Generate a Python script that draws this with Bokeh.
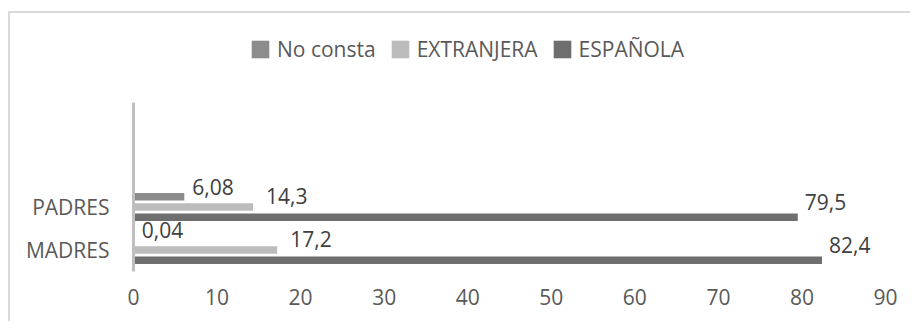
from bokeh.plotting import figure
from bokeh.layouts import column
from bokeh.models import Range1d, FixedTicker, Legend, LegendItem, ColumnDataSource
from bokeh.transform import dodge
from bokeh.core.properties import value
from bokeh.embed import file_html
from bokeh.resources import INLINE

# ---- data ----
categories = ["MADRES", "PADRES"]
espanola = [82.4, 79.5]
extranjera = [17.2, 14.3]
no_consta = [0.04, 6.08]
espanola_labels = ["82,4", "79,5"]
extranjera_labels = ["17,2", "14,3"]
no_consta_labels = ["0,04", "6,08"]
x_ticks = [0, 10, 20, 30, 40, 50, 60, 70, 80, 90]

ypos = [i + 0.5 for i in range(len(categories))]
src = ColumnDataSource(dict(
    y=ypos, esp=espanola, ext=extranjera, noc=no_consta,
    esp_l=espanola_labels, ext_l=extranjera_labels, noc_l=no_consta_labels,
))

FONT = "Open Sans"
FS = "21px"
AXIS_TOP = 3.93   # extent of the category axis line
Y_END = 5.77      # room above for the legend

p = figure(width=900, height=308, output_backend="svg", toolbar_location=None,
           x_range=Range1d(0, 90), y_range=Range1d(0, Y_END),
           min_border_left=123, min_border_right=25, min_border_top=10, min_border_bottom=50)
p.outline_line_color = None
p.grid.visible = False
p.background_fill_color = "white"
p.border_fill_color = "white"

BAR_H = 0.175
OFF = 0.24

r_noc = p.hbar(y=dodge("y", OFF), right="noc", left=0, height=BAR_H, source=src,
               fill_color="#8c8c8c", line_color=None,
               hatch_pattern="v_line", hatch_color="#a0a0a0", hatch_scale=3, hatch_weight=1)
r_ext = p.hbar(y="y", right="ext", left=0, height=BAR_H, source=src,
               fill_color="#bcbcbc", line_color=None,
               hatch_pattern="v_line", hatch_color="#cacaca", hatch_scale=3, hatch_weight=1)
r_esp = p.hbar(y=dodge("y", -OFF), right="esp", left=0, height=BAR_H, source=src,
               fill_color="#6e6e6e", line_color=None,
               hatch_pattern="v_line", hatch_color="#858585", hatch_scale=3, hatch_weight=1)

lab_kw = dict(source=src, text_font=value(FONT), text_font_size=FS,
              text_color="#404040", text_align="left", text_baseline="middle")
p.text(x="noc", y=dodge("y", OFF), text="noc_l", x_offset=8, y_offset=-10, **lab_kw)
p.text(x="ext", y="y", text="ext_l", x_offset=13, y_offset=-11, **lab_kw)
p.text(x="esp", y=dodge("y", -OFF), text="esp_l", x_offset=7, y_offset=-15, **lab_kw)

# axes
p.xaxis.ticker = FixedTicker(ticks=x_ticks)
p.xaxis.axis_line_color = None
p.xaxis.major_tick_line_color = None
p.xaxis.minor_tick_line_color = None
p.xaxis.major_label_standoff = 11
p.xaxis.major_label_text_font = FONT
p.xaxis.major_label_text_font_size = FS
p.xaxis.major_label_text_color = "#595959"

p.yaxis.ticker = FixedTicker(ticks=ypos)
p.yaxis.bounds = (0, AXIS_TOP)
p.yaxis.major_label_overrides = {y: c for y, c in zip(ypos, categories)}
p.yaxis.axis_line_color = "#bfbfbf"
p.yaxis.axis_line_width = 3
p.yaxis.major_tick_line_color = None
p.yaxis.minor_tick_line_color = None
p.yaxis.major_label_standoff = 18
p.yaxis.major_label_text_font = FONT
p.yaxis.major_label_text_font_size = FS
p.yaxis.major_label_text_color = "#595959"

legend = Legend(items=[
    LegendItem(label="No consta", renderers=[r_noc]),
    LegendItem(label="EXTRANJERA", renderers=[r_ext]),
    LegendItem(label="ESPAÑOLA", renderers=[r_esp]),
], orientation="horizontal", location=(116, 208))
legend.glyph_width = 22
legend.glyph_height = 22
legend.label_standoff = 6
legend.spacing = 13
legend.padding = 0
legend.margin = 0
legend.border_line_color = None
legend.background_fill_alpha = 0
legend.label_text_font = FONT
legend.label_text_font_size = FS
legend.label_text_color = "#595959"
p.add_layout(legend, "center")

layout = column(p, margin=(11, 0, 0, 8),
                styles={"border-left": "2px solid #d9d9d9", "border-top": "2px solid #d9d9d9"})

open("out.html", "w").write(file_html(layout, INLINE))
